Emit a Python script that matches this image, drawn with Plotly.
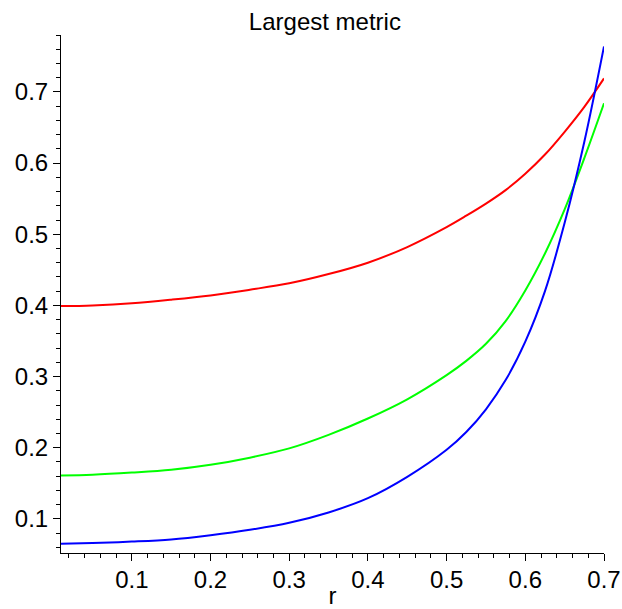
import plotly.graph_objects as go

r_vals = [0.01, 0.05, 0.1, 0.15, 0.2, 0.25, 0.3, 0.35, 0.4, 0.45, 0.5, 0.525, 0.55, 0.575, 0.6, 0.625, 0.65, 0.675, 0.7]
red_vals = [0.399, 0.400, 0.403, 0.408, 0.414, 0.422, 0.431, 0.444, 0.460, 0.482, 0.510, 0.526, 0.543, 0.562, 0.585, 0.612, 0.644, 0.679, 0.719]
green_vals = [0.161, 0.162, 0.165, 0.169, 0.176, 0.186, 0.199, 0.218, 0.241, 0.268, 0.302, 0.322, 0.346, 0.378, 0.421, 0.473, 0.535, 0.607, 0.684]
blue_vals = [0.065, 0.066, 0.068, 0.071, 0.077, 0.0846, 0.0945, 0.109, 0.129, 0.159, 0.197, 0.222, 0.254, 0.295, 0.349, 0.420, 0.516, 0.630, 0.764]

series = [(red_vals, "#FF0000"), (green_vals, "#00FF00"), (blue_vals, "#0000FF")]

fig = go.Figure()
for vals, col in series:
    fig.add_trace(go.Scatter(x=r_vals, y=vals, mode="lines",
                             line=dict(color=col, width=2, shape="spline", smoothing=1.0),
                             showlegend=False, hoverinfo="skip"))

font = dict(family="Liberation Sans, Arial, sans-serif", size=24, color="black")
axis_common = dict(showgrid=False, zeroline=False, showline=True, linecolor="black", linewidth=1,
                   ticks="outside", ticklen=7, tickcolor="black", tickwidth=1,
                   tickfont=font, tick0=0, dtick=0.1, automargin=False,
                   minor=dict(ticks="outside", ticklen=4, dtick=0.02, tick0=0, tickcolor="black", showgrid=False))

fig.update_layout(
    width=622, height=609,
    margin=dict(l=61, r=18, t=35, b=56),
    paper_bgcolor="white", plot_bgcolor="white",
    font=font,
    title=dict(text="Largest metric", font=dict(family="Liberation Sans, Arial, sans-serif", size=24, color="black"),
               xref="paper", x=0.486, xanchor="center", yref="container", y=0.965, yanchor="middle"),
    xaxis=dict(range=[0.01, 0.7], title=dict(text="r", font=font, standoff=4), ticklabelstandoff=-2, **axis_common),
    yaxis=dict(range=[0.052, 0.78], ticklabelstandoff=0, **axis_common),
)

# remove the default page margin so the 622x609 figure fits the window exactly
fig.write_html("out.html",
               config={"displayModeBar": False},
               post_script="document.body.style.margin='0';document.documentElement.style.overflow='hidden';")
